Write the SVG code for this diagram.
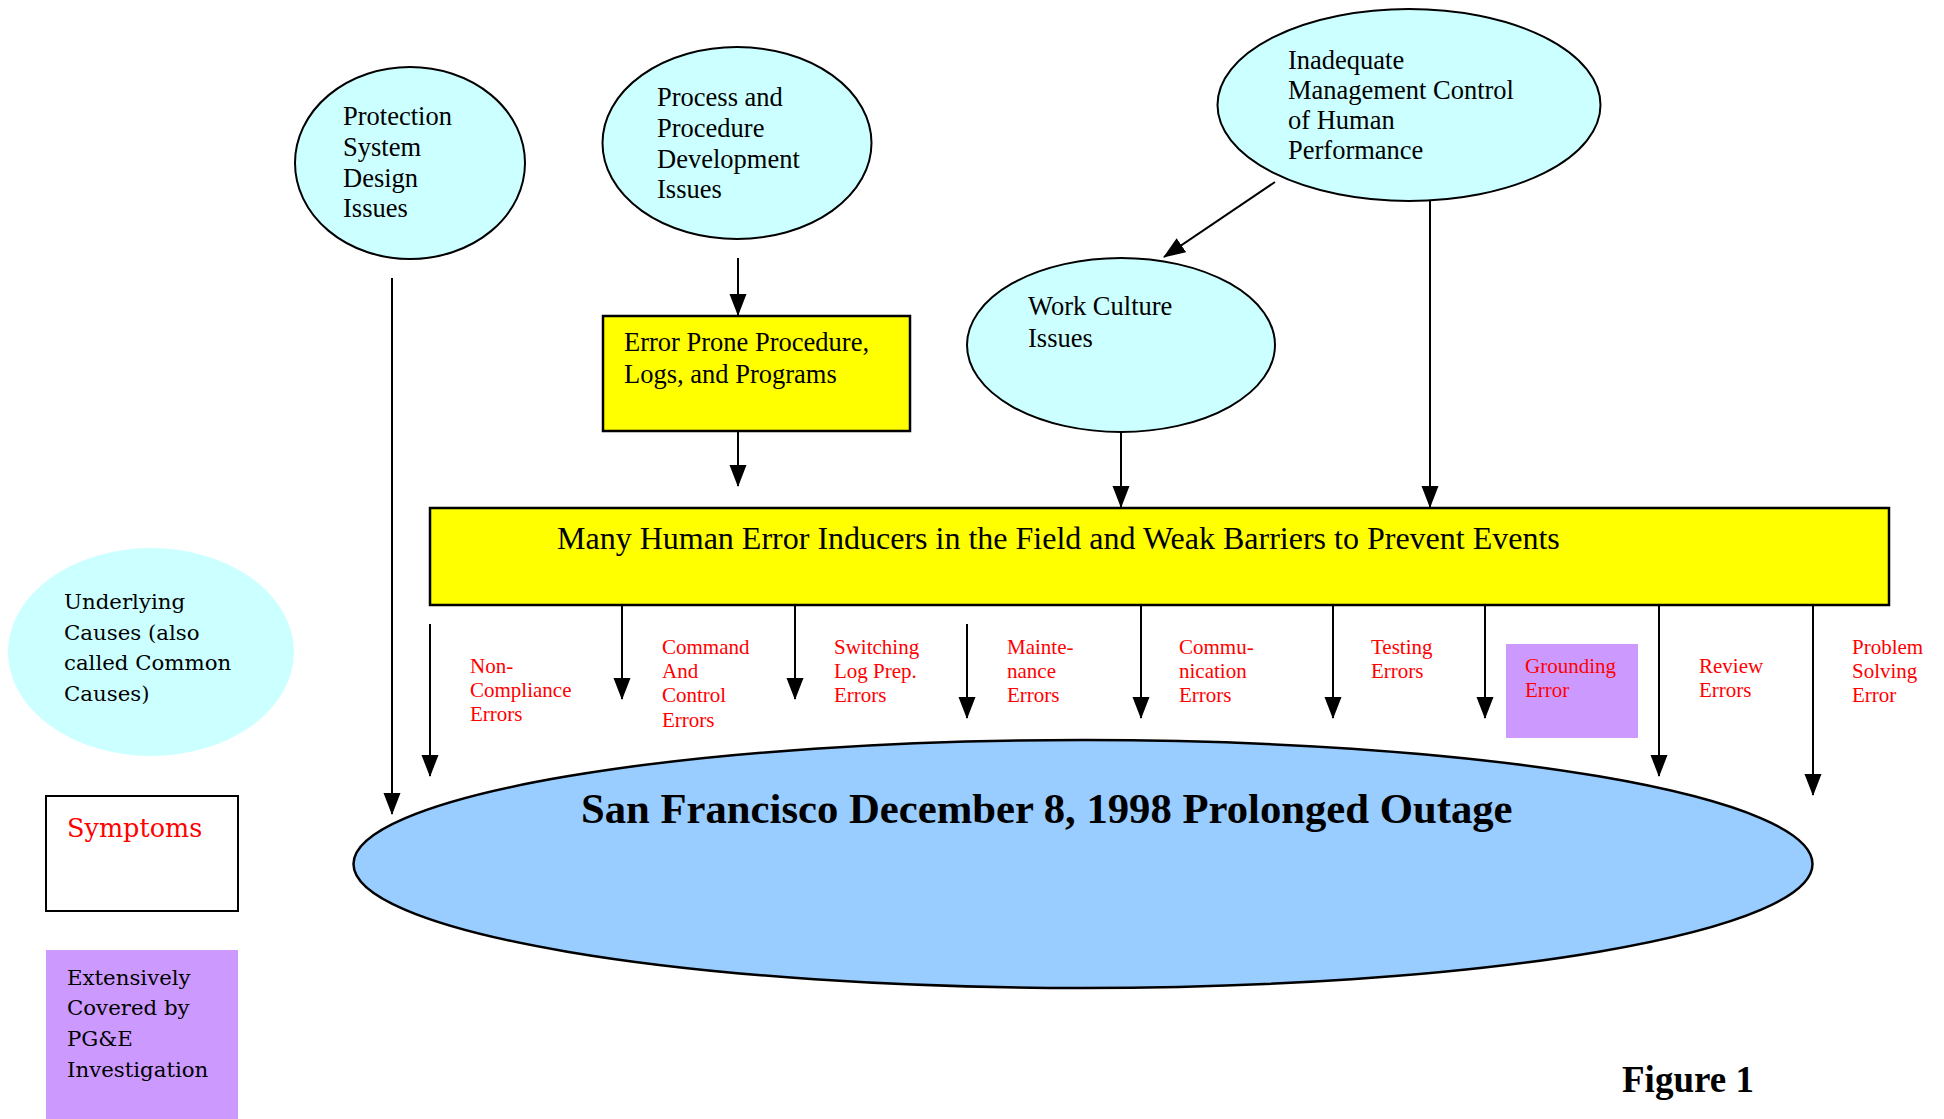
<svg xmlns="http://www.w3.org/2000/svg" width="1944" height="1119" viewBox="0 0 1944 1119">
<defs>
<style>
.cause{fill:#CCFFFF;stroke:#000;stroke-width:2}
.ybox{fill:#FFFF00;stroke:#000;stroke-width:2.5}
.purple{fill:#CC99FF}
.t{font-family:"Liberation Serif","Times New Roman",serif;font-size:26.5px;fill:#000}
.red{font-family:"Liberation Serif","Times New Roman",serif;font-size:21px;fill:#FF0000}
.leg{font-family:"DejaVu Serif",serif;font-size:21.3px;fill:#000}
.conn line{stroke:#000;stroke-width:2;marker-end:url(#ah)}
</style>
<marker id="ah" markerUnits="userSpaceOnUse" markerWidth="24" markerHeight="18" refX="21" refY="8.5" orient="auto">
<path d="M0,0 L22,8.5 L0,17 z" fill="#000"/>
</marker>
</defs>
<rect width="1944" height="1119" fill="#fff"/>

<g id="protection">
<ellipse class="cause" cx="410" cy="163" rx="115" ry="96"/>
<text class="t" x="343"><tspan x="343" y="125">Protection</tspan><tspan x="343" y="156">System</tspan><tspan x="343" y="187">Design</tspan><tspan x="343" y="217">Issues</tspan></text>
</g>

<g id="process">
<ellipse class="cause" cx="737" cy="143" rx="134.5" ry="96"/>
<text class="t"><tspan x="657" y="106">Process and</tspan><tspan x="657" y="137">Procedure</tspan><tspan x="657" y="168">Development</tspan><tspan x="657" y="198">Issues</tspan></text>
</g>

<g id="management">
<ellipse class="cause" cx="1409" cy="105" rx="191.5" ry="96"/>
<text class="t"><tspan x="1288" y="69">Inadequate</tspan><tspan x="1288" y="99">Management Control</tspan><tspan x="1288" y="129">of Human</tspan><tspan x="1288" y="159">Performance</tspan></text>
</g>

<g id="workculture">
<ellipse class="cause" cx="1121" cy="345" rx="154" ry="87"/>
<text class="t"><tspan x="1028" y="315">Work Culture</tspan><tspan x="1028" y="347">Issues</tspan></text>
</g>

<g id="errorprone">
<rect class="ybox" x="603" y="316" width="307" height="115"/>
<text class="t"><tspan x="624" y="351">Error Prone Procedure,</tspan><tspan x="624" y="383">Logs, and Programs</tspan></text>
</g>

<g id="inducers">
<rect class="ybox" x="430" y="508" width="1459" height="97"/>
<text class="t" x="557" y="549" style="font-size:32px">Many Human Error Inducers in the Field and Weak Barriers to Prevent Events</text>
</g>

<g id="outage">
<ellipse cx="1083" cy="864" rx="729.5" ry="124" fill="#99CCFF" stroke="#000" stroke-width="2.5"/>
<text x="581" y="823" style="font-family:'Liberation Serif','Times New Roman',serif;font-size:42.7px;font-weight:bold">San Francisco December 8, 1998 Prolonged Outage</text>
</g>

<g id="grounding">
<rect class="purple" x="1506" y="644" width="132" height="94"/>
<text class="red"><tspan x="1525" y="673">Grounding</tspan><tspan x="1525" y="697">Error</tspan></text>
</g>

<g id="labels">
<text class="red"><tspan x="470" y="673">Non-</tspan><tspan x="470" y="697">Compliance</tspan><tspan x="470" y="721">Errors</tspan></text>
<text class="red"><tspan x="662" y="654">Command</tspan><tspan x="662" y="678">And</tspan><tspan x="662" y="702">Control</tspan><tspan x="662" y="727">Errors</tspan></text>
<text class="red"><tspan x="834" y="654">Switching</tspan><tspan x="834" y="678">Log Prep.</tspan><tspan x="834" y="702">Errors</tspan></text>
<text class="red"><tspan x="1007" y="654">Mainte-</tspan><tspan x="1007" y="678">nance</tspan><tspan x="1007" y="702">Errors</tspan></text>
<text class="red"><tspan x="1179" y="654">Commu-</tspan><tspan x="1179" y="678">nication</tspan><tspan x="1179" y="702">Errors</tspan></text>
<text class="red"><tspan x="1371" y="654">Testing</tspan><tspan x="1371" y="678">Errors</tspan></text>
<text class="red"><tspan x="1699" y="673">Review</tspan><tspan x="1699" y="697">Errors</tspan></text>
<text class="red"><tspan x="1852" y="654">Problem</tspan><tspan x="1852" y="678">Solving</tspan><tspan x="1852" y="702">Error</tspan></text>
</g>

<g id="legend-underlying">
<ellipse cx="151" cy="652" rx="143" ry="104" fill="#CCFFFF"/>
<text class="leg"><tspan x="64" y="609">Underlying</tspan><tspan x="64" y="640">Causes (also</tspan><tspan x="64" y="670">called Common</tspan><tspan x="64" y="701">Causes)</tspan></text>
</g>

<g id="legend-symptoms">
<rect x="46" y="796" width="192" height="115" fill="#fff" stroke="#000" stroke-width="2"/>
<text class="leg" x="67" y="837" style="font-size:25.5px;fill:#FF0000">Symptoms</text>
</g>

<g id="legend-pge">
<rect class="purple" x="46" y="950" width="192" height="169"/>
<text class="leg"><tspan x="67" y="985">Extensively</tspan><tspan x="67" y="1015">Covered by</tspan><tspan x="67" y="1046">PG&amp;E</tspan><tspan x="67" y="1077">Investigation</tspan></text>
</g>

<g id="figure-label">
<text x="1622" y="1092" style="font-family:'Liberation Serif','Times New Roman',serif;font-size:37px;font-weight:bold">Figure 1</text>
</g>

<g id="connectors" class="conn">
<line x1="392" y1="278" x2="392" y2="814"/>
<line x1="738" y1="258" x2="738" y2="315"/>
<line x1="738" y1="431" x2="738" y2="486"/>
<line x1="1275" y1="182" x2="1164" y2="257"/>
<line x1="1430" y1="201" x2="1430" y2="507"/>
<line x1="1121" y1="432" x2="1121" y2="507"/>
<line x1="430" y1="624" x2="430" y2="776"/>
<line x1="622" y1="605" x2="622" y2="699"/>
<line x1="795" y1="605" x2="795" y2="699"/>
<line x1="967" y1="624" x2="967" y2="718"/>
<line x1="1141" y1="605" x2="1141" y2="718"/>
<line x1="1333" y1="605" x2="1333" y2="718"/>
<line x1="1485" y1="605" x2="1485" y2="718"/>
<line x1="1659" y1="605" x2="1659" y2="776"/>
<line x1="1813" y1="605" x2="1813" y2="795"/>
</g>
</svg>
